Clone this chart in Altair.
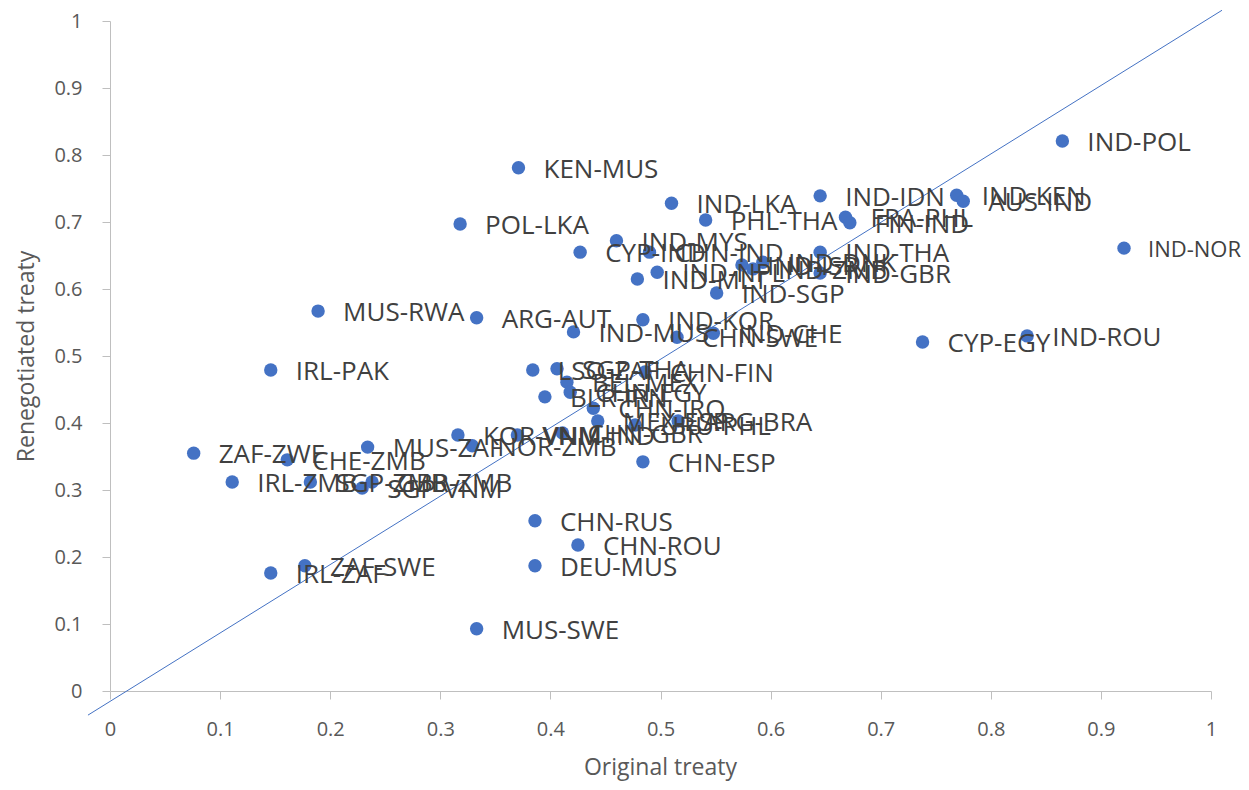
import altair as alt
import pandas as pd

labels = [
    "IND-POL", "KEN-MUS", "IND-LKA", "IND-IDN", "IND-KEN", "AUS-IND", "PHL-THA",
    "FRA-PHL", "FIN-IND", "POL-LKA", "IND-MYS", "CYP-IND", "CHN-IND", "IND-THA",
    "IND-NOR", "IND-NPL", "IND-MLT", "IND-ISR", "IND-DNK", "IND-ZMB", "IND-GBR",
    "IND-SGP", "MUS-RWA", "ARG-AUT", "IND-KOR", "IND-MUS", "CHN-SWE", "IND-CHE",
    "CYP-EGY", "IND-ROU", "IRL-PAK", "LSO-ZAF", "SGP-THA", "CHN-FIN", "BEL-MEX",
    "BLR-IRN", "CHN-EGY", "CHN-IRQ", "MEX-ESP", "URU-PHL", "ARG-BRA", "CHN-GBR",
    "VNM-IND", "KOR-VNM", "MUS-ZAF", "NOR-ZMB", "ZAF-ZWE", "CHE-ZMB", "IRL-ZMB",
    "SGP-ZMB", "SGP-VNM", "GBR-ZMB", "CHN-ESP", "CHN-RUS", "CHN-ROU", "DEU-MUS",
    "ZAF-SWE", "IRL-ZAF", "MUS-SWE",
]
original = [
    0.865, 0.371, 0.510, 0.645, 0.769, 0.775, 0.541,
    0.668, 0.672, 0.318, 0.460, 0.427, 0.490, 0.645,
    0.921, 0.497, 0.479, 0.574, 0.593, 0.584, 0.645,
    0.551, 0.189, 0.333, 0.484, 0.421, 0.515, 0.548,
    0.738, 0.833, 0.146, 0.384, 0.406, 0.486, 0.415,
    0.395, 0.418, 0.439, 0.443, 0.477, 0.516, 0.411,
    0.370, 0.316, 0.234, 0.329, 0.076, 0.161, 0.111,
    0.182, 0.229, 0.238, 0.484, 0.386, 0.425, 0.386,
    0.177, 0.146, 0.333,
]
renegotiated = [
    0.821, 0.781, 0.728, 0.739, 0.740, 0.731, 0.703,
    0.707, 0.699, 0.697, 0.672, 0.655, 0.655, 0.655,
    0.661, 0.625, 0.615, 0.636, 0.640, 0.630, 0.624,
    0.594, 0.567, 0.557, 0.554, 0.536, 0.528, 0.534,
    0.521, 0.530, 0.479, 0.479, 0.481, 0.476, 0.461,
    0.439, 0.446, 0.422, 0.403, 0.397, 0.403, 0.385,
    0.382, 0.382, 0.364, 0.366, 0.355, 0.345, 0.312,
    0.312, 0.303, 0.312, 0.342, 0.254, 0.218, 0.187,
    0.187, 0.176, 0.093,
]
line_x = [-0.02, 1.01]
line_y = [-0.036, 1.016]
tick_values = [0, 0.1, 0.2, 0.3, 0.4, 0.5, 0.6, 0.7, 0.8, 0.9, 1]

df = pd.DataFrame({"label": labels, "orig": original, "reneg": renegotiated})
ldf = pd.DataFrame({"orig": line_x, "reneg": line_y})

FONT = "Open Sans"
common_axis = dict(
    values=tick_values, format="~g", grid=False,
    domainColor="#BFBFBF", domainWidth=1, tickColor="#BFBFBF", tickSize=8,
    labelFont=FONT, labelFontSize=20, labelColor="#595959", labelPadding=20,
    labelFlush=False, labelOverlap=False,
    titleFont=FONT, titleFontSize=23, titleColor="#595959", titleFontWeight="normal",
)
xax = alt.Axis(titleX=550, titleY=76, titleBaseline="middle", titleAlign="center", **common_axis)
yax = alt.Axis(titleX=-84, titleY=335, titleBaseline="middle", titleAlign="center", **common_axis)

xs = alt.Scale(domain=[0, 1], nice=False, zero=False)
ys = alt.Scale(domain=[0, 1], nice=False, zero=False)

X = alt.X("orig:Q", scale=xs, axis=xax, title="Original treaty")
Y = alt.Y("reneg:Q", scale=ys, axis=yax, title="Renegotiated treaty")

points = alt.Chart(df).mark_circle(size=180, color="#4472C4", opacity=1).encode(x=X, y=Y)
line = alt.Chart(ldf).mark_line(color="#4472C4", strokeWidth=1, clip=False).encode(x=X, y=Y)
text_main = alt.Chart(df).transform_filter(
    alt.datum.label != "IND-NOR"
).mark_text(
    align="left", baseline="middle", dx=25, dy=2, fontSize=26, font=FONT, color="#404040"
).encode(x=X, y=Y, text="label:N")
text_edge = alt.Chart(df).transform_filter(
    alt.datum.label == "IND-NOR"
).mark_text(
    align="left", baseline="middle", dx=24, dy=2, fontSize=22, font=FONT, color="#404040"
).encode(x=X, y=Y, text="label:N")

chart = alt.layer(points, line, text_main, text_edge).properties(
    width=1101, height=670,
    padding={"left": 102, "top": 13, "right": 30, "bottom": 91},
    autosize="none",
).configure_view(stroke=None)

chart.save("out.html", embed_options={"renderer": "svg", "actions": False})
